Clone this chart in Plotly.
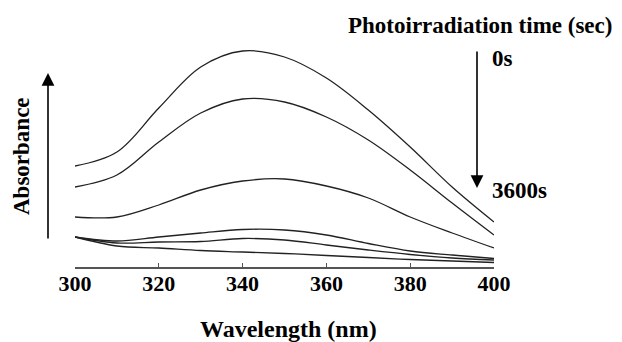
import plotly.graph_objects as go

wavelength = [300, 310, 320, 330, 340, 350, 360, 370, 380, 390, 400]
abs_0s    = [1.01, 1.15, 1.59, 2.00, 2.16, 2.10, 1.89, 1.57, 1.20, 0.80, 0.45]
abs_t1    = [0.80, 0.92, 1.25, 1.54, 1.68, 1.65, 1.50, 1.27, 0.97, 0.64, 0.32]
abs_t2    = [0.50, 0.50, 0.62, 0.77, 0.86, 0.88, 0.81, 0.69, 0.50, 0.34, 0.19]
abs_t3    = [0.30, 0.26, 0.30, 0.34, 0.375, 0.37, 0.32, 0.235, 0.16, 0.12, 0.085]
abs_t4    = [0.30, 0.24, 0.25, 0.255, 0.285, 0.27, 0.22, 0.17, 0.125, 0.09, 0.07]
abs_3600s = [0.30, 0.21, 0.19, 0.165, 0.15, 0.135, 0.115, 0.095, 0.075, 0.06, 0.045]
series = [abs_0s, abs_t1, abs_t2, abs_t3, abs_t4, abs_3600s]
tick_vals = [300, 320, 340, 360, 380, 400]

serif = "Liberation Serif, Times New Roman, serif"

fig = go.Figure()
for s in series:
    fig.add_trace(go.Scatter(x=wavelength, y=s, mode="lines",
                             line=dict(color="#222", width=1.3, shape="spline", smoothing=1.0),
                             showlegend=False, hoverinfo="skip"))

fig.update_layout(
    width=614, height=334,
    margin=dict(l=67, r=128, t=22, b=75),
    plot_bgcolor="white", paper_bgcolor="white",
    xaxis=dict(range=[300, 400], showgrid=False, zeroline=False,
               showline=True, linecolor="#555", linewidth=1.5,
               ticks="inside", ticklen=4, tickcolor="#555", tickwidth=1,
               tickvals=tick_vals, ticktext=[f"<b>{v}</b>" for v in tick_vals],
               ticklabelstandoff=-4,
               tickfont=dict(family=serif, size=22, color="black")),
    yaxis=dict(range=[0, 2.37], visible=False),
)

def px(x):
    return (x - 75) / 419

def py(y):
    return (267 - y) / 237

font = dict(family=serif, size=23, color="black")

fig.add_annotation(xref="paper", yref="paper", x=px(288), y=py(329),
                   text="<b>Wavelength (nm)</b>", showarrow=False,
                   font=dict(family=serif, size=24, color="black"), xanchor="center", yanchor="middle")
fig.add_annotation(xref="paper", yref="paper", x=px(480), y=py(25),
                   text="<b>Photoirradiation time (sec)</b>", showarrow=False,
                   font=font, xanchor="center", yanchor="middle")
fig.add_annotation(xref="paper", yref="paper", x=px(490), y=py(58),
                   text="<b>0s</b>", showarrow=False,
                   font=font, xanchor="left", yanchor="middle")
fig.add_annotation(xref="paper", yref="paper", x=px(490), y=py(191),
                   text="<b>3600s</b>", showarrow=False,
                   font=font, xanchor="left", yanchor="middle")
fig.add_annotation(xref="paper", yref="paper", x=px(21), y=py(156),
                   text="<b>Absorbance</b>", showarrow=False, textangle=-90,
                   font=font, xanchor="center", yanchor="middle")

# arrows
fig.add_annotation(xref="paper", yref="paper", x=px(477), y=py(188),
                   ax=0, ay=-138, text="", showarrow=True, arrowhead=2, arrowsize=1.6,
                   arrowwidth=1.6, arrowcolor="black")
fig.add_annotation(xref="paper", yref="paper", x=px(48), y=py(73),
                   ax=0, ay=167, text="", showarrow=True, arrowhead=2, arrowsize=1.6,
                   arrowwidth=1.6, arrowcolor="black")

fig.write_html("out.html")
